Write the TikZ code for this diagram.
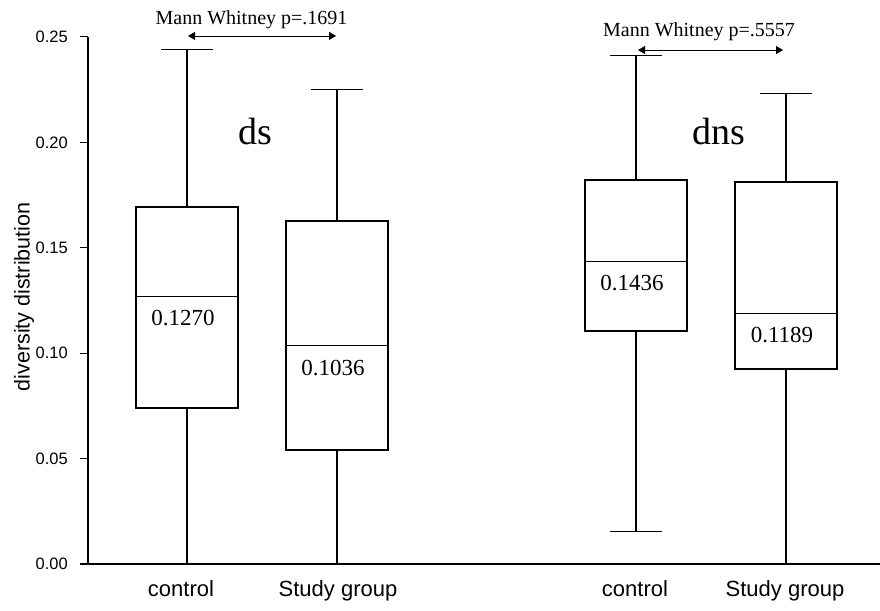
\documentclass[tikz,border=0pt]{standalone}
\usepackage{fontspec}
\setmainfont{Liberation Serif}
\setsansfont{Liberation Sans}
\usetikzlibrary{arrows.meta}
\tikzset{
  boxplt/.style={x=1pt,y=2108pt},
  whisk/.style={line width=2.2pt},
  boxedge/.style={line width=1.5pt},
  ticklbl/.style={font=\sffamily\fontsize{16.5}{18}\selectfont,anchor=east,inner sep=0pt},
  grplbl/.style={font=\sffamily\fontsize{22}{24}\selectfont,anchor=base},
  medlbl/.style={font=\fontsize{23}{26}\selectfont},
  testlbl/.style={font=\fontsize{20}{24}\selectfont,anchor=base},
  pairarr/.style={{Triangle[length=7pt,width=8pt]}-{Triangle[length=7pt,width=8pt]},line width=0.8pt},
}

\begin{document}
\begin{tikzpicture}[boxplt]
  \useasboundingbox (0pt,-46pt) rectangle (880pt,564pt);
  % axes
  \draw[line width=1.2pt] (80,0) -- (880,0);
  \draw[line width=1.2pt] (88,0) -- (88,0.25);
  \foreach \y in {0.00,0.05,0.10,0.15,0.20,0.25} {
    \draw[line width=1pt] (80,\y) -- (88,\y);
    \node[ticklbl] (tick\y) at (68,\y) {\y};
  }
  \node[rotate=90,font=\sffamily\fontsize{21.5}{24}\selectfont] (ylab) at (24,0.1267) {diversity distribution};

  % centre / low / q1 / median / q3 / high
  \foreach \cx/\lo/\qa/\md/\qb/\hi in {187/0/0.0740/0.1270/0.1694/0.2443,
      337/0/0.0541/0.1036/0.1627/0.2249,
      636/0.0152/0.1105/0.1436/0.1822/0.2410,
      786/0/0.0925/0.1189/0.1812/0.2234} {
    \draw[whisk] (\cx,\lo) -- (\cx,\qa) (\cx,\qb) -- (\cx,\hi);
    \draw[line width=1pt] (\cx-26,\hi) -- (\cx+26,\hi) (\cx-26,\lo) -- (\cx+26,\lo);
    \draw[boxedge] (\cx-51,\qa) rectangle (\cx+51,\qb);
    \draw[line width=0.8pt] (\cx-51,\md) -- (\cx+51,\md);
    \node[medlbl,yshift=-22pt] (med\cx) at (\cx-4,\md) {\md};
  }

  % groups
  \node[grplbl] (ctla) at (181,-0.0152) {control};
  \node[grplbl] (stga) at (338,-0.0152) {Study group};
  \node[grplbl] (ctlb) at (635,-0.0152) {control};
  \node[grplbl] (stgb) at (785,-0.0152) {Study group};
  \node[font=\fontsize{38}{42}\selectfont,anchor=base] (ds) at (255,0.1988) {ds};
  \node[font=\fontsize{38}{42}\selectfont,anchor=base] (dns) at (719,0.1988) {dns};

  % tests
  \node[testlbl] (mwa) at (251.5,0.2557) {Mann Whitney p=.1691};
  \node[testlbl] (mwb) at (699,0.2500) {Mann Whitney p=.5557};
  \coordinate (mwal) at (188,0.2505);
  \coordinate (mwar) at (336,0.2505);
  \coordinate (mwbl) at (638,0.2438);
  \coordinate (mwbr) at (783,0.2438);
  \draw[pairarr] (mwal) -- (mwar);
  \draw[pairarr] (mwbl) -- (mwbr);
\end{tikzpicture}
\end{document}
